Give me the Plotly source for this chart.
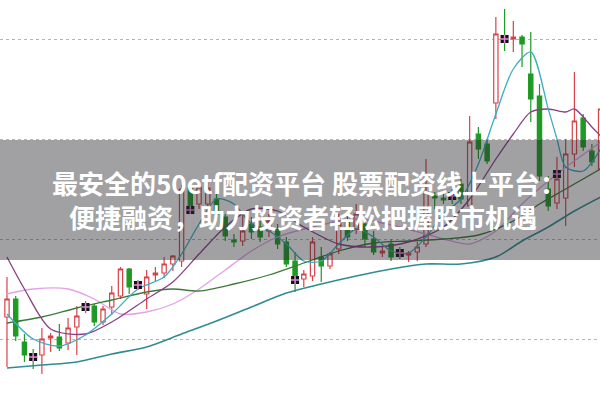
import plotly.graph_objects as go

# ---- candle data (index, open, high, low, close) ----
idx = list(range(69))
opens = [8.2,10.0,5.7,4.4,4.4,6.1,6.2,5.6,7.2,9.0,9.3,7.7,9.2,10.3,13.0,11.6,10.5,12.4,12.6,13.5,
         13.8,21.1,19.5,19.5,20.0,18.2,15.9,15.8,17.5,17.2,16.8,17.0,15.7,13.8,12.0,12.3,14.2,13.3,15.0,17.8,
         17.0,17.5,16.0,14.6,15.5,14.8,14.4,14.7,15.5,20.3,20.1,20.5,21.5,19.3,26.5,25.5,29.6,36.2,36.0,36.2,
         32.5,30.3,21.0,19.6,20.1,24.5,28.1,24.8,23.0]
highs = [12.2,10.3,6.5,5.0,7.1,6.6,7.5,8.1,9.3,9.8,9.5,9.3,11.3,13.2,13.1,11.9,12.9,13.2,14.2,14.4,
         21.4,21.5,21.7,21.7,20.5,18.5,16.5,18.5,18.2,17.8,18.5,17.5,16.2,14.7,12.9,16.2,15.2,14.7,18.5,18.5,
         19.5,18.0,16.8,15.3,16.0,15.2,14.8,15.7,24.0,20.7,20.7,21.0,22.0,28.3,27.2,26.0,38.2,39.0,37.8,36.4,
         36.7,31.5,22.3,24.2,26.0,32.7,28.5,25.5,31.8]
lows = [3.2,5.8,3.7,3.0,2.5,4.7,4.8,4.9,4.4,8.6,7.3,7.4,8.4,10.0,10.5,10.9,9.0,11.8,12.1,12.8,
        13.2,18.8,19.0,19.2,18.0,15.8,15.2,15.3,16.0,15.7,16.2,15.0,13.2,10.7,11.2,11.8,11.7,13.0,14.5,15.8,
        16.5,15.2,14.4,14.2,13.8,14.0,13.7,13.8,15.2,19.0,19.5,19.5,19.5,19.2,24.0,23.5,28.0,34.8,34.7,33.2,
        27.7,21.8,18.8,19.0,17.3,23.2,24.8,23.3,19.7]
closes = [10.0,6.3,4.4,4.1,6.0,6.3,5.1,7.1,8.3,9.3,7.7,9.0,10.6,13.0,11.2,11.3,12.2,12.6,13.5,14.3,
          21.0,19.3,21.2,21.1,18.5,16.3,15.7,16.8,16.7,16.2,17.8,15.5,13.5,12.3,12.5,15.7,13.3,14.5,17.5,16.2,
          18.5,16.0,14.7,14.8,14.2,14.4,14.6,15.2,20.7,20.1,19.9,20.0,20.0,25.7,25.0,23.8,36.5,35.7,36.2,35.5,
          30.0,22.3,19.3,22.0,24.5,27.8,25.2,23.7,29.0]

# signal markers
sig_idx = [3, 9, 15, 21, 33, 45, 51, 57, 63]
sig_val = [4.2, 9.2, 11.4, 18.9, 11.9, 14.6, 20.3, 36.0, 22.5]

# moving-average lines
ma5_idx = [0,3,6,9,12,15,18,20,22,24,26,28,30,32,34,36,38,40,42,44,46,48,50,52,54,56,58,60,62,63,64,66,68]
ma5_val = [8.5,6.0,5.3,6.4,8.5,11.0,12.2,14.5,17.5,20.0,19.5,17.5,16.8,15.5,13.8,13.8,15.5,17.0,16.2,14.8,14.6,16.2,18.5,20.0,23.5,28.5,33.0,34.7,29.0,26.0,23.2,22.8,25.0]
ma10_idx = [0,2,5,9,12,16,19,22,25,28,31,34,38,42,46,50,53,56,58,60,62,64,65,67,68]
ma10_val = [14.2,11.0,7.0,6.5,7.7,10.0,11.7,14.5,17.2,19.0,18.8,17.2,15.5,15.2,15.7,17.2,20.0,24.0,26.5,28.7,29.0,28.7,29.0,27.2,26.3]
ma20_idx = [0,4,8,12,16,19,22,26,30,34,38,42,46,50,54,58,61,64,68]
ma20_val = [7.6,8.2,9.1,9.9,10.7,11.0,10.8,11.5,12.4,13.6,14.8,15.6,15.8,16.0,16.4,17.8,19.5,21.0,23.0]
ma30_idx = [0,3,7,10,13,16,19,22,25,28,31,35,40,45,50,53,56,59,63,68]
ma30_val = [10.5,11.0,11.0,10.0,8.5,8.7,9.5,11.0,12.9,14.8,16.2,17.2,18.0,17.2,16.0,15.5,16.8,19.5,22.5,25.7]
ma60_idx = [0,4,8,12,16,20,24,28,32,36,40,44,48,52,56,59,62,65,68]
ma60_val = [3.1,3.4,3.7,4.5,5.2,6.5,7.8,9.2,10.6,11.5,12.3,13.0,13.5,13.5,14.2,15.8,17.2,18.8,20.2]

grid_vals = [6, 16, 26, 36]
title_line1 = "最安全的50etf配资平台 股票配资线上平台："
title_line2 = "便捷融资，助力投资者轻松把握股市机遇"

RED = "#d8434a"
GREEN = "#1f9a24"

fig = go.Figure()

lines = [
    (ma60_idx, ma60_val, "#2f8c92", 1.6),
    (ma30_idx, ma30_val, "#e3a2e6", 1.3),
    (ma20_idx, ma20_val, "#3d7a3a", 1.3),
    (ma10_idx, ma10_val, "#8c3f86", 1.3),
    (ma5_idx, ma5_val, "#3aaec4", 1.3),
]
for xs, ys, col, w in lines:
    fig.add_trace(go.Scatter(x=xs, y=ys, mode="lines", line=dict(color=col, width=w, shape="spline", smoothing=0.8),
                             hoverinfo="skip", showlegend=False))

fig.add_trace(go.Candlestick(
    x=idx, open=opens, high=highs, low=lows, close=closes,
    increasing=dict(line=dict(color=RED, width=1.2), fillcolor="white"),
    decreasing=dict(line=dict(color=GREEN, width=1.2), fillcolor=GREEN),
    whiskerwidth=0, showlegend=False, hoverinfo="skip",
))

fig.add_trace(go.Scatter(x=sig_idx, y=sig_val, mode="markers",
                         marker=dict(symbol="square", size=8, color="#111111"),
                         hoverinfo="skip", showlegend=False))
fig.add_trace(go.Scatter(x=sig_idx, y=sig_val, mode="markers",
                         marker=dict(symbol="cross-thin", size=6, line=dict(color="#e58ae0", width=1.5)),
                         hoverinfo="skip", showlegend=False))

# grey banner
fig.add_shape(type="rect", xref="paper", yref="paper", x0=0, x1=1, y0=0.35, y1=0.65,
              fillcolor="rgba(40,40,46,0.44)", line=dict(width=0), layer="above")

fig.add_annotation(xref="paper", yref="paper", x=0.515, y=1 - 182/400, text=title_line1, showarrow=False,
                   font=dict(family="Noto Sans CJK SC", size=26, color="white", weight="bold"))
fig.add_annotation(xref="paper", yref="paper", x=0.505, y=1 - 216/400, text=title_line2, showarrow=False,
                   font=dict(family="Noto Sans CJK SC", size=26, color="white", weight="bold"))

fig.update_layout(
    width=600, height=400, margin=dict(l=0, r=0, t=0, b=0),
    paper_bgcolor="white", plot_bgcolor="white",
    xaxis=dict(range=[-0.8, 67.93], showgrid=False, showticklabels=False, zeroline=False,
               rangeslider=dict(visible=False), fixedrange=True),
    yaxis=dict(range=[-0.1, 39.9], tickvals=grid_vals, showticklabels=False, showgrid=True,
               gridcolor="#b4b4b4", griddash="dot", gridwidth=1, zeroline=False, fixedrange=True),
    showlegend=False, hovermode=False,
)

fig.write_html("out.html", config={"displayModeBar": False, "staticPlot": True},
               post_script="document.body.style.margin='0';document.body.style.overflow='hidden';")
